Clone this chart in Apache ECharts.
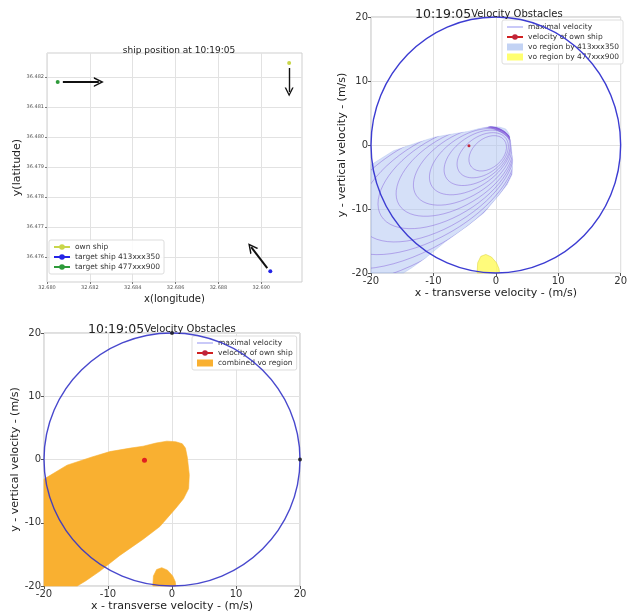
<!DOCTYPE html>
<html>
<head>
<meta charset="utf-8">
<script src="https://cdn.jsdelivr.net/npm/echarts@6/dist/echarts.min.js"></script>
<style>
html,body{margin:0;padding:0;background:#fff;}
#c{width:630px;height:613px;}
</style>
</head>
<body>
<div id="c"></div>
<script>
// ---------- data ----------
const positionXTicks = [32.680, 32.682, 32.684, 32.686, 32.688, 32.690];
const positionYTicks = [36.476, 36.477, 36.478, 36.479, 36.480, 36.481, 36.482];
const positionXRange = [32.680, 32.6919];
const positionYRange = [36.47517, 36.4828];
const ownShipPos = [32.6913, 36.48247];
const target413Pos = [32.69042, 36.47553];
const target477Pos = [32.6805, 36.48183];
const headingArrows = [
  [[32.68074, 36.48183], [32.68242, 36.48183]],
  [[32.6913, 36.4823], [32.6913, 36.4815]],
  [[32.69028, 36.47563], [32.68953, 36.47633]]
];
const velTicks = [-20, -10, 0, 10, 20];
const maxSpeed = 20;
const ownVelocity = [-4.3, -0.1];
const circleMarks = [[0, 20], [20, 0]];
const vo413Boundary = [
  [-20, -3.1], [-16.4, -0.9], [-12.5, 0.4], [-9.7, 1.25], [-6.5, 1.8], [-4.5, 2.1], [-2.5, 2.6],
  [-0.8, 2.9], [0.6, 2.8], [1.6, 2.5], [2.1, 1.8], [2.4, 0.3], [2.7, -2.4], [2.6, -4.6],
  [1.8, -6.2], [0.6, -7.7], [-1.9, -10.6], [-4.5, -12.6], [-8.2, -15.2], [-11.2, -17.6],
  [-13.5, -19.2], [-14.8, -20], [-20, -20]
];
const vo477Boundary = [
  [-3.0, -20], [-2.9, -18.4], [-2.4, -17.4], [-1.6, -17.1], [-0.7, -17.5], [0.1, -18.4], [0.5, -19.3], [0.6, -20]
];
// contour ellipses: [centerX, centerY, semiMajor, semiMinor, angleDeg]
const vo413Contours = [
  [-1.3, -1.3, 3.4, 2.3, 40],
  [-2.1, -1.6, 4.6, 2.9, 36],
  [-3.0, -2.0, 5.9, 3.5, 34],
  [-4.1, -2.6, 7.3, 4.1, 33],
  [-5.3, -3.3, 8.8, 4.8, 32],
  [-6.6, -4.1, 10.4, 5.5, 31],
  [-8.0, -5.0, 12.1, 6.2, 31],
  [-9.5, -6.0, 13.9, 6.9, 31],
  [-11.1, -7.0, 15.8, 7.6, 30],
  [-12.8, -8.1, 17.8, 8.3, 30],
  [-14.6, -9.3, 19.9, 9.0, 30],
  [-16.5, -10.5, 22.1, 9.6, 30]
];

// ---------- helpers ----------
const FONT = 'DejaVu Sans';
const chart = echarts.init(document.getElementById('c'), null, {renderer: 'canvas'});

function polygonSeries(name, boundary, xi, fill, stroke) {
  return {
    name: name, type: 'custom', xAxisIndex: xi, yAxisIndex: xi,
    data: boundary, silent: true, z: 2,
    renderItem: function (params, api) {
      if (params.dataIndex !== 0) return;
      const pts = boundary.map(p => api.coord(p));
      return {type: 'polygon', shape: {points: pts}, style: {fill: fill, stroke: stroke, lineWidth: 0.6}};
    }
  };
}
function circleSeries(xi, color) {
  return {
    name: 'maximal velocity', type: 'custom', xAxisIndex: xi, yAxisIndex: xi,
    data: [[0, 0, maxSpeed]], silent: true, z: 5, clip: false,
    itemStyle: {color: '#8f8ff0'},
    renderItem: function (params, api) {
      const c = api.coord([api.value(0), api.value(1)]);
      const s = api.size([api.value(2), api.value(2)]);
      return {type: 'ellipse', shape: {cx: c[0], cy: c[1], rx: s[0], ry: s[1]},
        style: {fill: 'none', stroke: color, lineWidth: 1.4}};
    }
  };
}
function contourSeries(name, list, boundary, xi, stroke) {
  return {
    name: name, type: 'custom', xAxisIndex: xi, yAxisIndex: xi,
    data: list, silent: true, z: 3,
    renderItem: function (params, api) {
      const c = api.coord([api.value(0), api.value(1)]);
      const s = api.size([api.value(2), api.value(3)]);
      const clipPts = boundary.map(p => api.coord(p));
      return {
        type: 'group',
        clipPath: {type: 'polygon', shape: {points: clipPts}},
        children: [{
          type: 'ellipse', x: c[0], y: c[1], rotation: api.value(4) * Math.PI / 180,
          shape: {cx: 0, cy: 0, rx: s[0], ry: s[1]},
          style: {fill: 'none', stroke: stroke, lineWidth: 0.7}
        }]
      };
    }
  };
}
const arrowHead = 'path://M0,10 L5,0 L10,10 L8.4,10 L5,3.2 L1.6,10 Z';

function velAxisX(gi) {
  return {
    type: 'value', gridIndex: gi, min: -20, max: 20, interval: 10,
    name: 'x - transverse velocity - (m/s)', nameLocation: 'middle', nameGap: 15,
    nameTextStyle: {fontFamily: FONT, fontSize: 11, color: '#222'},
    axisLine: {show: false, onZero: false}, axisTick: {show: true, length: 3, lineStyle: {color: '#555'}},
    axisLabel: {fontFamily: FONT, fontSize: 10, color: '#333', margin: 3},
    splitLine: {show: true, lineStyle: {color: '#e2e2e2', width: 1}}
  };
}
function velAxisY(gi) {
  return {
    type: 'value', gridIndex: gi, min: -20, max: 20, interval: 10,
    name: 'y - vertical velocity - (m/s)', nameLocation: 'middle', nameGap: 22,
    nameTextStyle: {fontFamily: FONT, fontSize: 11, color: '#222'},
    axisLine: {show: false, onZero: false}, axisTick: {show: true, length: 3, lineStyle: {color: '#555'}},
    axisLabel: {fontFamily: FONT, fontSize: 10, color: '#333', margin: 3},
    splitLine: {show: true, lineStyle: {color: '#e2e2e2', width: 1}}
  };
}
const lineIcon = 'path://M0,4.4 L20,4.4 L20,5.6 L0,5.6 Z';
const legendBase = {
  orient: 'vertical', itemGap: 3, itemWidth: 16, itemHeight: 7,
  textStyle: {fontFamily: FONT, fontSize: 7.5, color: '#333'},
  backgroundColor: 'rgba(255,255,255,0.85)', borderColor: '#ddd', borderWidth: 1,
  borderRadius: 2, padding: [3, 4, 3, 4], selectedMode: false
};
const titleRich = {
  a: {fontFamily: FONT, fontSize: 12.5, fontWeight: 'normal', color: '#222'},
  b: {fontFamily: FONT, fontSize: 10, fontWeight: 'normal', color: '#222'}
};

const option = {
  animation: false,
  backgroundColor: '#fff',
  title: [
    {text: 'ship position at 10:19:05', left: 174, top: 41, textAlign: 'center',
      textStyle: {fontFamily: FONT, fontSize: 9, fontWeight: 'normal', color: '#222'}},
    {text: '{a|10:19:05}{b|Velocity Obstacles}', left: 410, top: 3, textStyle: {fontWeight: 'normal', rich: titleRich}},
    {text: '{a|10:19:05}{b|Velocity Obstacles}', left: 83, top: 318, textStyle: {fontWeight: 'normal', rich: titleRich}}
  ],
  grid: [
    {left: 47, top: 53, width: 255, height: 229, show: true, borderColor: '#cfcfcf', borderWidth: 1, backgroundColor: 'transparent'},
    {left: 371, top: 17, width: 255, height: 256, show: true, borderColor: '#bfbfbf', borderWidth: 1, backgroundColor: 'transparent'},
    {left: 44, top: 333, width: 256, height: 256, show: true, borderColor: '#bfbfbf', borderWidth: 1, backgroundColor: 'transparent'}
  ],
  xAxis: [
    {type: 'value', gridIndex: 0, min: positionXRange[0], max: positionXRange[1],
      name: 'x(longitude)', nameLocation: 'middle', nameGap: 12,
      nameTextStyle: {fontFamily: FONT, fontSize: 10, color: '#222'},
      axisLine: {show: false, onZero: false},
      axisTick: {show: true, length: 2, customValues: positionXTicks, lineStyle: {color: '#777'}},
      axisLabel: {fontFamily: FONT, fontSize: 5, color: '#555', margin: 3, customValues: positionXTicks,
        formatter: v => v.toFixed(3)},
      splitLine: {show: true, lineStyle: {color: '#e2e2e2'}}},
    velAxisX(1), velAxisX(2)
  ],
  yAxis: [
    {type: 'value', gridIndex: 0, min: positionYRange[0], max: positionYRange[1],
      name: 'y(latitude)', nameLocation: 'middle', nameGap: 22,
      nameTextStyle: {fontFamily: FONT, fontSize: 11, color: '#222'},
      axisLine: {show: false, onZero: false},
      axisTick: {show: true, length: 2, customValues: positionYTicks, lineStyle: {color: '#777'}},
      axisLabel: {fontFamily: FONT, fontSize: 5, color: '#555', margin: 3, customValues: positionYTicks,
        formatter: v => v.toFixed(3)},
      splitLine: {show: true, lineStyle: {color: '#e2e2e2'}}},
    velAxisY(1), velAxisY(2)
  ],
  legend: [
    Object.assign({}, legendBase, {left: 49, top: 240, itemGap: 2,
      data: ['own ship', 'target ship 413xxx350', 'target ship 477xxx900']}),
    Object.assign({}, legendBase, {left: 502, top: 20, itemGap: 2,
      data: [
        {name: 'maximal velocity', icon: lineIcon, itemStyle: {color: '#8f8ff0'}},
        {name: 'velocity of own ship'},
        {name: 'vo region by 413xxx350', icon: 'rect', itemStyle: {color: '#c3d3f4'}},
        {name: 'vo region by 477xxx900', icon: 'rect', itemStyle: {color: '#ffff70'}}
      ]}),
    Object.assign({}, legendBase, {left: 192, top: 336, itemGap: 2,
      data: [
        {name: 'maximal velocity', icon: lineIcon, itemStyle: {color: '#8f8ff0'}},
        {name: 'velocity of own ship'},
        {name: 'combined vo region', icon: 'rect', itemStyle: {color: '#f9b031'}}
      ]})
  ],
  series: [
    // ---- ship positions ----
    {name: 'own ship', type: 'line', xAxisIndex: 0, yAxisIndex: 0, data: [ownShipPos],
      symbol: 'circle', symbolSize: 4, itemStyle: {color: '#c9d64a'}, lineStyle: {color: '#c9d64a', width: 1.2},
      markLine: {silent: true, symbol: ['none', arrowHead], symbolSize: 9, label: {show: false},
        lineStyle: {color: '#111', width: 1.4, type: 'solid'},
        data: [[{coord: headingArrows[1][0]}, {coord: headingArrows[1][1]}]]}},
    {name: 'target ship 413xxx350', type: 'line', xAxisIndex: 0, yAxisIndex: 0, data: [target413Pos],
      symbol: 'circle', symbolSize: 4, itemStyle: {color: '#2424e6'}, lineStyle: {color: '#2424e6', width: 1.2},
      markLine: {silent: true, symbol: ['none', arrowHead], symbolSize: 10, label: {show: false},
        lineStyle: {color: '#111', width: 2, type: 'solid'},
        data: [[{coord: headingArrows[2][0]}, {coord: headingArrows[2][1]}]]}},
    {name: 'target ship 477xxx900', type: 'line', xAxisIndex: 0, yAxisIndex: 0, data: [target477Pos],
      symbol: 'circle', symbolSize: 4, itemStyle: {color: '#2e9a3a'}, lineStyle: {color: '#2e9a3a', width: 1.2},
      markLine: {silent: true, symbol: ['none', arrowHead], symbolSize: 10, label: {show: false},
        lineStyle: {color: '#111', width: 2, type: 'solid'},
        data: [[{coord: headingArrows[0][0]}, {coord: headingArrows[0][1]}]]}},
    // ---- velocity obstacles (separate) ----
    polygonSeries('vo region by 413xxx350', vo413Boundary, 1, 'rgba(172,194,242,0.5)', 'rgba(150,176,236,0.5)'),
    contourSeries('vo region by 413xxx350', vo413Contours, vo413Boundary, 1, 'rgba(123,79,214,0.55)'),
    polygonSeries('vo region by 477xxx900', vo477Boundary, 1, 'rgba(255,250,90,0.8)', 'rgba(220,210,60,0.9)'),
    circleSeries(1, '#3c3cd2'),
    {name: 'velocity of own ship', type: 'line', xAxisIndex: 1, yAxisIndex: 1, data: [ownVelocity],
      symbol: 'circle', symbolSize: 3, itemStyle: {color: '#c0243a'}, lineStyle: {color: '#d02020', width: 1}, z: 6},
    // ---- combined ----
    polygonSeries('combined vo region', vo413Boundary, 2, '#f9b031', '#f9b031'),
    polygonSeries('combined vo region', vo477Boundary, 2, '#f9b031', '#f9b031'),
    circleSeries(2, 'rgba(52,52,200,0.9)'),
    {name: 'maximal velocity', type: 'scatter', xAxisIndex: 2, yAxisIndex: 2, data: circleMarks,
      symbolSize: 4, itemStyle: {color: '#111'}, z: 7, silent: true},
    {name: 'velocity of own ship', type: 'line', xAxisIndex: 2, yAxisIndex: 2, data: [ownVelocity],
      symbol: 'circle', symbolSize: 5, itemStyle: {color: '#e02020'}, lineStyle: {color: '#d02020', width: 1}, z: 6}
  ]
};
chart.setOption(option);
</script>
</body>
</html>
